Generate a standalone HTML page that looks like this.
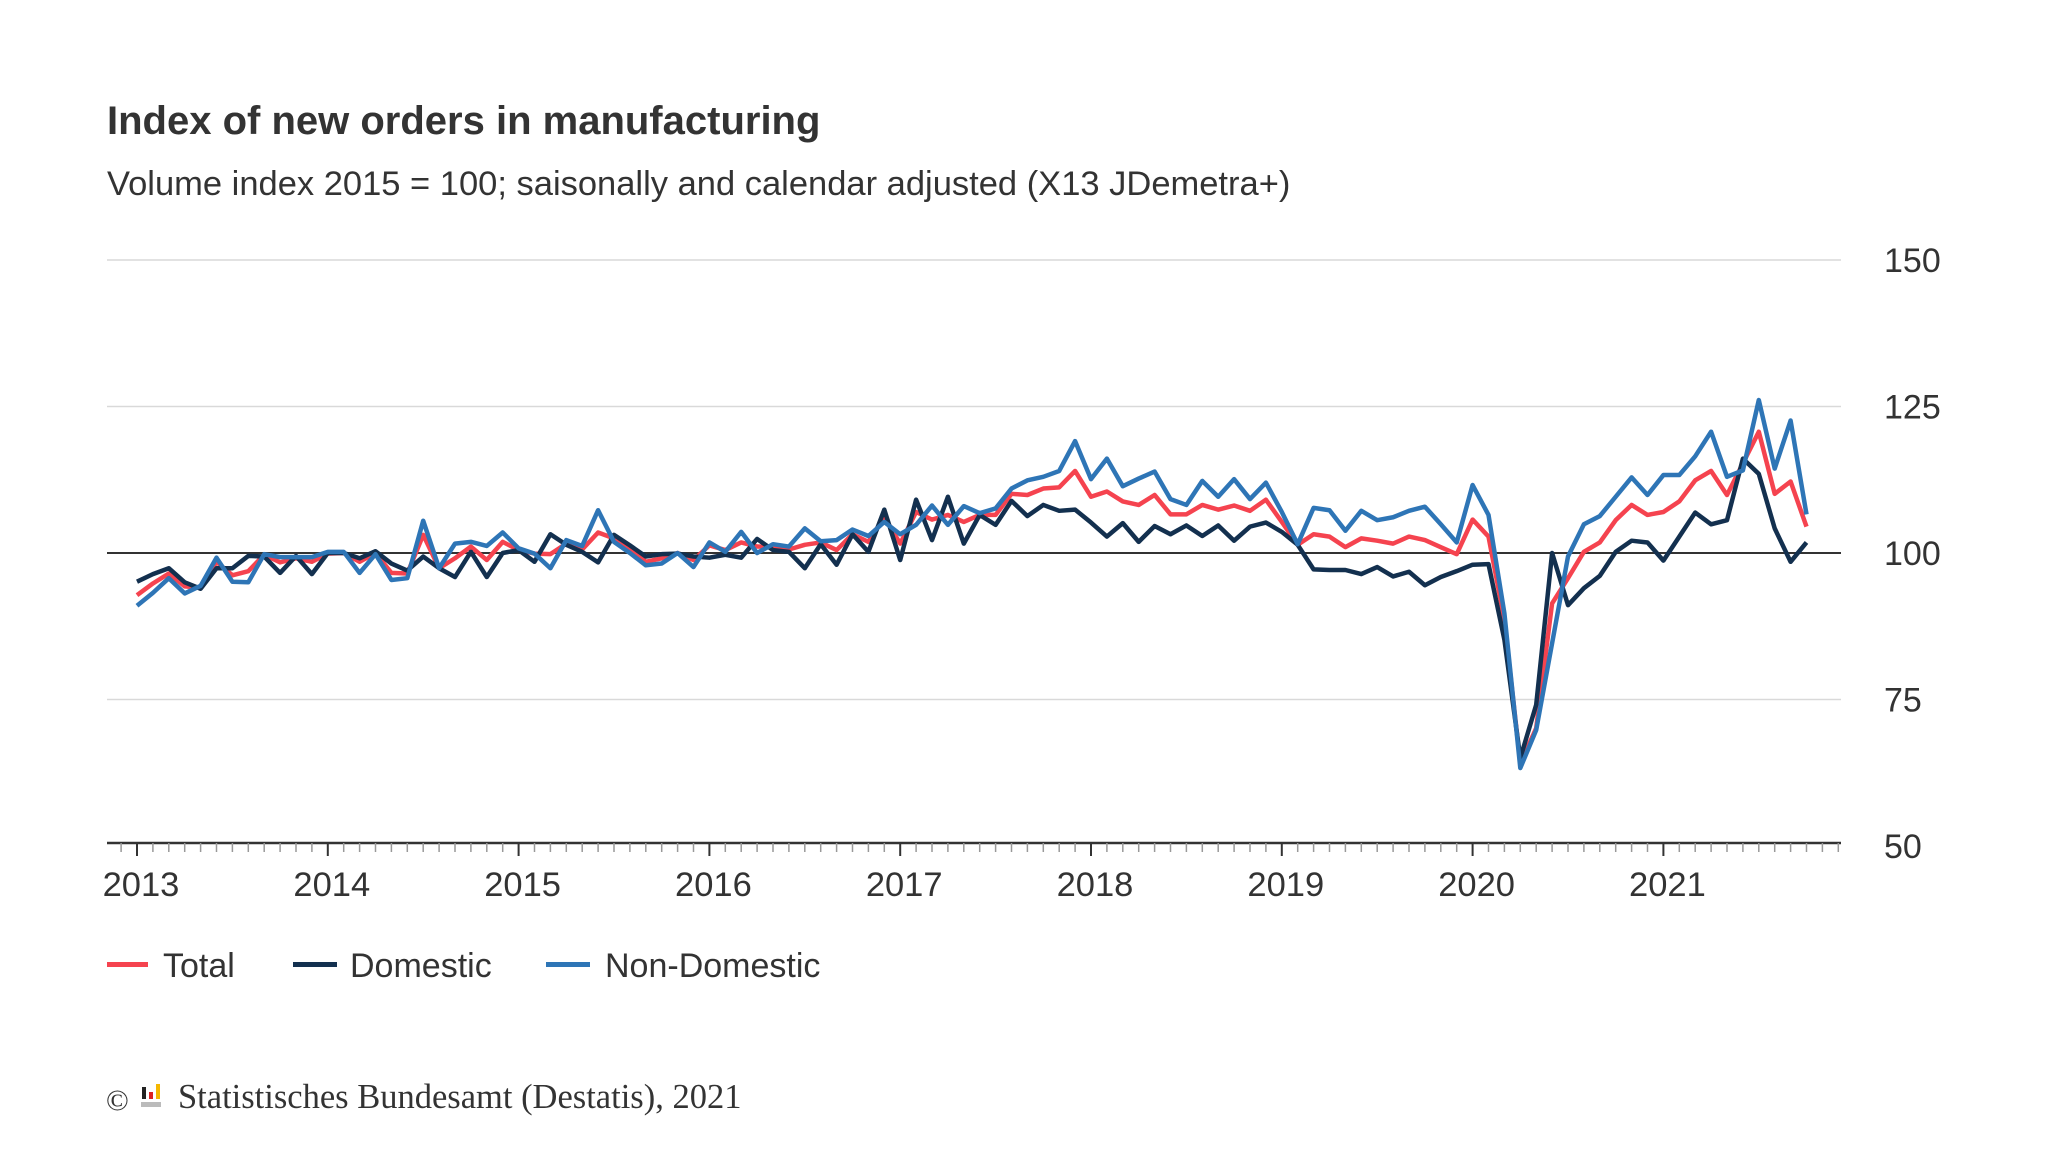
<!DOCTYPE html>
<html><head><meta charset="utf-8"><style>
body{margin:0;background:#fff;}
svg{display:block;font-family:"Liberation Sans",Arial,sans-serif;}
</style></head><body>
<svg id="chart" width="2048" height="1152">
<text x="107" y="134" font-size="40" font-weight="bold" fill="#333">Index of new orders in manufacturing</text>
<text x="107" y="195" font-size="34.5" fill="#333">Volume index 2015 = 100; saisonally and calendar adjusted (X13 JDemetra+)</text>
<g id="grid"></g><g id="axes"></g><g id="series"></g>
<g>
<g><rect x="107" y="962" width="41" height="5" fill="#f5434f"/><text x="163" y="977" font-size="34" fill="#333">Total</text></g>
<g><rect x="293" y="962" width="44" height="5" fill="#13304f"/><text x="350" y="977" font-size="34" fill="#333">Domestic</text></g>
<g><rect x="546" y="962" width="44" height="5" fill="#2e75b6"/><text x="605" y="977" font-size="34" fill="#333">Non-Domestic</text></g>
</g>
<g>
<text x="106" y="1110" font-family="Liberation Serif,serif" font-size="30" fill="#333">©</text>
<rect x="142" y="1087" width="4" height="12" fill="#222"/><rect x="149" y="1092" width="4" height="7" fill="#d22"/><rect x="156" y="1084" width="4" height="15" fill="#f5b800"/><rect x="141" y="1102" width="20" height="5" fill="#bbb"/>
<text x="178" y="1108" font-family="Liberation Serif,serif" font-size="34.5" fill="#333">Statistisches Bundesamt (Destatis), 2021</text>
</g>
</svg>
<script>
const years=["2013","2014","2015","2016","2017","2018","2019","2020","2021"];
const yTicks=[50,75,100,125,150];
const total=[92.8,94.8,96.5,94.3,94.1,98.5,96.2,96.9,99.7,98.4,99.1,98.5,99.9,100,98.5,100,96.6,96.5,103.1,97.4,99.1,101.1,98.8,101.9,100.5,99.9,99.8,101.6,100.6,103.5,102.5,100.8,98.5,99.1,100,98.8,101.3,100.5,101.8,101.1,101,100.6,101.4,101.8,100.5,103.2,101.9,106.2,101.6,107,105.7,106.5,105.3,106.5,106.5,110.1,109.9,111,111.2,114,109.6,110.5,108.8,108.2,109.9,106.6,106.6,108.2,107.4,108.1,107.2,109.1,105.3,101.4,103.2,102.8,101,102.5,102.1,101.6,102.8,102.2,101,99.8,105.7,102.8,88.6,64.1,70.1,91.4,95.7,100.2,101.8,105.6,108.2,106.5,107,108.8,112.4,114,109.9,115.3,120.7,110.1,112.2,104.5];
const domestic=[95.1,96.4,97.4,95,93.9,97.4,97.4,99.5,99.4,96.6,99.5,96.4,100,100,99.1,100.3,98.2,97,99.4,97.4,95.9,100.2,95.9,100,100.5,98.5,103.2,101.4,100.2,98.4,103.1,101.3,99.4,99.8,99.9,99.4,99.2,99.7,99.2,102.4,100.5,100.2,97.4,101.5,98,103.2,100.2,107.4,98.8,109.1,102.2,109.6,101.6,106.5,104.8,108.9,106.3,108.2,107.2,107.4,105.2,102.8,105.1,101.9,104.6,103.2,104.7,102.9,104.7,102.1,104.5,105.2,103.6,101.4,97.2,97.1,97.1,96.4,97.6,96,96.8,94.5,95.9,96.9,98,98.1,85.2,65,74.1,100,91.1,94,96.1,100.2,102.1,101.8,98.7,102.8,106.9,104.9,105.6,116.1,113.5,104.2,98.5,101.8];
const nonDomestic=[91,93.2,95.7,93.1,94.4,99.2,95.1,95,99.8,99.3,99.3,99.3,100.2,100.2,96.6,99.8,95.4,95.7,105.5,97.4,101.6,101.9,101.2,103.5,100.8,99.9,97.4,102.2,101.2,107.3,101.9,100,97.9,98.2,100,97.6,101.8,100.2,103.6,100,101.5,101.1,104.2,102,102.2,104,102.9,105.3,103.2,104.8,108.1,104.8,108,106.8,107.6,111,112.4,113,114,119.1,112.6,116.1,111.4,112.7,113.9,109.2,108.2,112.3,109.6,112.6,109.2,112,107,101.5,107.7,107.3,103.8,107.2,105.6,106.1,107.2,107.9,104.9,101.8,111.6,106.5,89.7,63.3,69.8,84.6,99.4,104.9,106.3,109.6,112.9,109.9,113.3,113.3,116.5,120.7,113,114.1,126.1,114.4,122.6,106.6];
const NS="http://www.w3.org/2000/svg";
const X0=137,MW=15.9,AX0=107,AX1=1841;
function x(i){return X0+i*MW;}
function y(v){return 553-(v-100)*5.86;}
function mk(tag,attrs,parent){const e=document.createElementNS(NS,tag);for(const k in attrs)e.setAttribute(k,attrs[k]);parent.appendChild(e);return e;}
const grid=document.getElementById('grid'),axes=document.getElementById('axes'),series=document.getElementById('series');
yTicks.forEach(t=>{
  if(t!==50&&t!==100){const l=mk('line',{x1:AX0,x2:AX1,y1:y(t),y2:y(t),stroke:'#d9d9d9','stroke-width':1.5},grid);
  
  }
  const tx=mk('text',{x:1884,y:y(t)+12,'font-size':34,fill:'#333'},axes);tx.textContent=t;
  
  
});
const axl=mk('line',{x1:AX0,x2:AX1,y1:843,y2:843,stroke:'#333','stroke-width':2.5},axes);


for(let i=-2;i<=108;i++){const xx=x(i);if(xx<AX0-1||xx>AX1+1)continue;
  const major=(i%12===0);
  const tk=mk('line',{x1:xx,x2:xx,y1:843,y2:major?856:852,stroke:major?'#333':'#999','stroke-width':major?2:1.5},axes);
  
  }
years.forEach((yr,k)=>{const t=mk('text',{x:x(k*12)+4,y:896,'font-size':34.5,fill:'#333','text-anchor':'middle'},axes);t.textContent=yr;
  
  });
const base=mk('line',{x1:AX0,x2:AX1,y1:y(100),y2:y(100),stroke:'#333','stroke-width':2},grid);


function line(arr,color,name){const p=mk('polyline',{points:arr.map((v,i)=>x(i)+','+y(v)).join(' '),fill:'none',stroke:color,'stroke-width':4.5,'stroke-linejoin':'round'},series);
  
  }
line(total,'#f5434f','line-total');
line(domestic,'#13304f','line-domestic');
line(nonDomestic,'#2e75b6','line-non-domestic');
</script>
</body></html>
